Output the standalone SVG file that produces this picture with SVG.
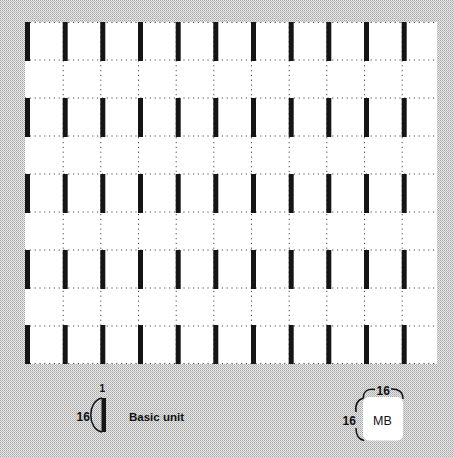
<svg xmlns="http://www.w3.org/2000/svg" width="454" height="457" viewBox="0 0 454 457">
<defs>
<pattern id="dither" width="2" height="2" patternUnits="userSpaceOnUse">
<rect width="2" height="2" fill="#e6e6e6"/>
<rect x="0" y="0" width="1" height="1" fill="#a8a8a8"/>
<rect x="1" y="1" width="1" height="1" fill="#bdbdbd"/>
</pattern>
<rect id="bar" width="5" height="39" fill="#151515"/>
</defs>
<style>
.dot{stroke:#4a4a4a;stroke-width:1;stroke-dasharray:1.2 3.6;fill:none}
.lbl{font-family:"Liberation Sans",Arial,sans-serif;font-weight:bold;fill:#111}
.arc{stroke:#111;stroke-width:1.5;fill:none}
</style>
<rect x="0" y="0" width="454" height="457" fill="url(#dither)"/>
<g id="grid">
<rect x="25" y="22" width="412" height="342" fill="#ffffff"/>
<g id="gridlines">
<path class="dot" d="M25,22.5H437M25,60H437M25,98H437M25,136H437M25,174H437M25,212H437M25,250H437M25,288H437M25,326H437M25,363.5H437"/>
<path class="dot" d="M63.2,22V364M100.8,22V364M138.5,22V364M176.2,22V364M213.8,22V364M251.5,22V364M289.2,22V364M326.8,22V364M364.5,22V364M402.2,22V364"/>
</g>
<g id="bars">
<use href="#bar" x="25" y="22"/><use href="#bar" x="62.7" y="22"/><use href="#bar" x="100.3" y="22"/><use href="#bar" x="138" y="22"/><use href="#bar" x="175.7" y="22"/><use href="#bar" x="213.3" y="22"/><use href="#bar" x="251" y="22"/><use href="#bar" x="288.7" y="22"/><use href="#bar" x="326.3" y="22"/><use href="#bar" x="364" y="22"/><use href="#bar" x="401.7" y="22"/>
<use href="#bar" x="25" y="98"/><use href="#bar" x="62.7" y="98"/><use href="#bar" x="100.3" y="98"/><use href="#bar" x="138" y="98"/><use href="#bar" x="175.7" y="98"/><use href="#bar" x="213.3" y="98"/><use href="#bar" x="251" y="98"/><use href="#bar" x="288.7" y="98"/><use href="#bar" x="326.3" y="98"/><use href="#bar" x="364" y="98"/><use href="#bar" x="401.7" y="98"/>
<use href="#bar" x="25" y="174"/><use href="#bar" x="62.7" y="174"/><use href="#bar" x="100.3" y="174"/><use href="#bar" x="138" y="174"/><use href="#bar" x="175.7" y="174"/><use href="#bar" x="213.3" y="174"/><use href="#bar" x="251" y="174"/><use href="#bar" x="288.7" y="174"/><use href="#bar" x="326.3" y="174"/><use href="#bar" x="364" y="174"/><use href="#bar" x="401.7" y="174"/>
<use href="#bar" x="25" y="250"/><use href="#bar" x="62.7" y="250"/><use href="#bar" x="100.3" y="250"/><use href="#bar" x="138" y="250"/><use href="#bar" x="175.7" y="250"/><use href="#bar" x="213.3" y="250"/><use href="#bar" x="251" y="250"/><use href="#bar" x="288.7" y="250"/><use href="#bar" x="326.3" y="250"/><use href="#bar" x="364" y="250"/><use href="#bar" x="401.7" y="250"/>
<use href="#bar" x="25" y="325"/><use href="#bar" x="62.7" y="325"/><use href="#bar" x="100.3" y="325"/><use href="#bar" x="138" y="325"/><use href="#bar" x="175.7" y="325"/><use href="#bar" x="213.3" y="325"/><use href="#bar" x="251" y="325"/><use href="#bar" x="288.7" y="325"/><use href="#bar" x="326.3" y="325"/><use href="#bar" x="364" y="325"/><use href="#bar" x="401.7" y="325"/>
</g>
</g>
<g id="legend-basic-unit">
<rect x="101.5" y="398" width="4.5" height="34" fill="#151515"/>
<path class="arc" d="M102,398 C87,401 87,429 102,432"/>
<text class="lbl" x="99.5" y="392" font-size="10">1</text>
<text class="lbl" x="76.5" y="421" font-size="12">16</text>
<text class="lbl" x="129" y="420.5" font-size="11.5">Basic unit</text>
</g>
<g id="legend-mb">
<rect x="363" y="397" width="40" height="43.5" rx="6" fill="#ffffff"/>
<path class="arc" d="M363.5,398 C363,391 368,388.5 375,389.5"/>
<path class="arc" d="M391,389 C398,388.5 403,392 403,399"/>
<path class="arc" d="M363.5,398 C357,400 355,405 356,412"/>
<path class="arc" d="M356,428 C356,435 359,439.5 364,440.5"/>
<text class="lbl" x="376.5" y="395" font-size="12">16</text>
<text class="lbl" x="342.5" y="425" font-size="12">16</text>
<text x="373" y="425" font-size="12.5" font-family="Liberation Sans,Arial,sans-serif" fill="#111">MB</text>
</g>
</svg>
